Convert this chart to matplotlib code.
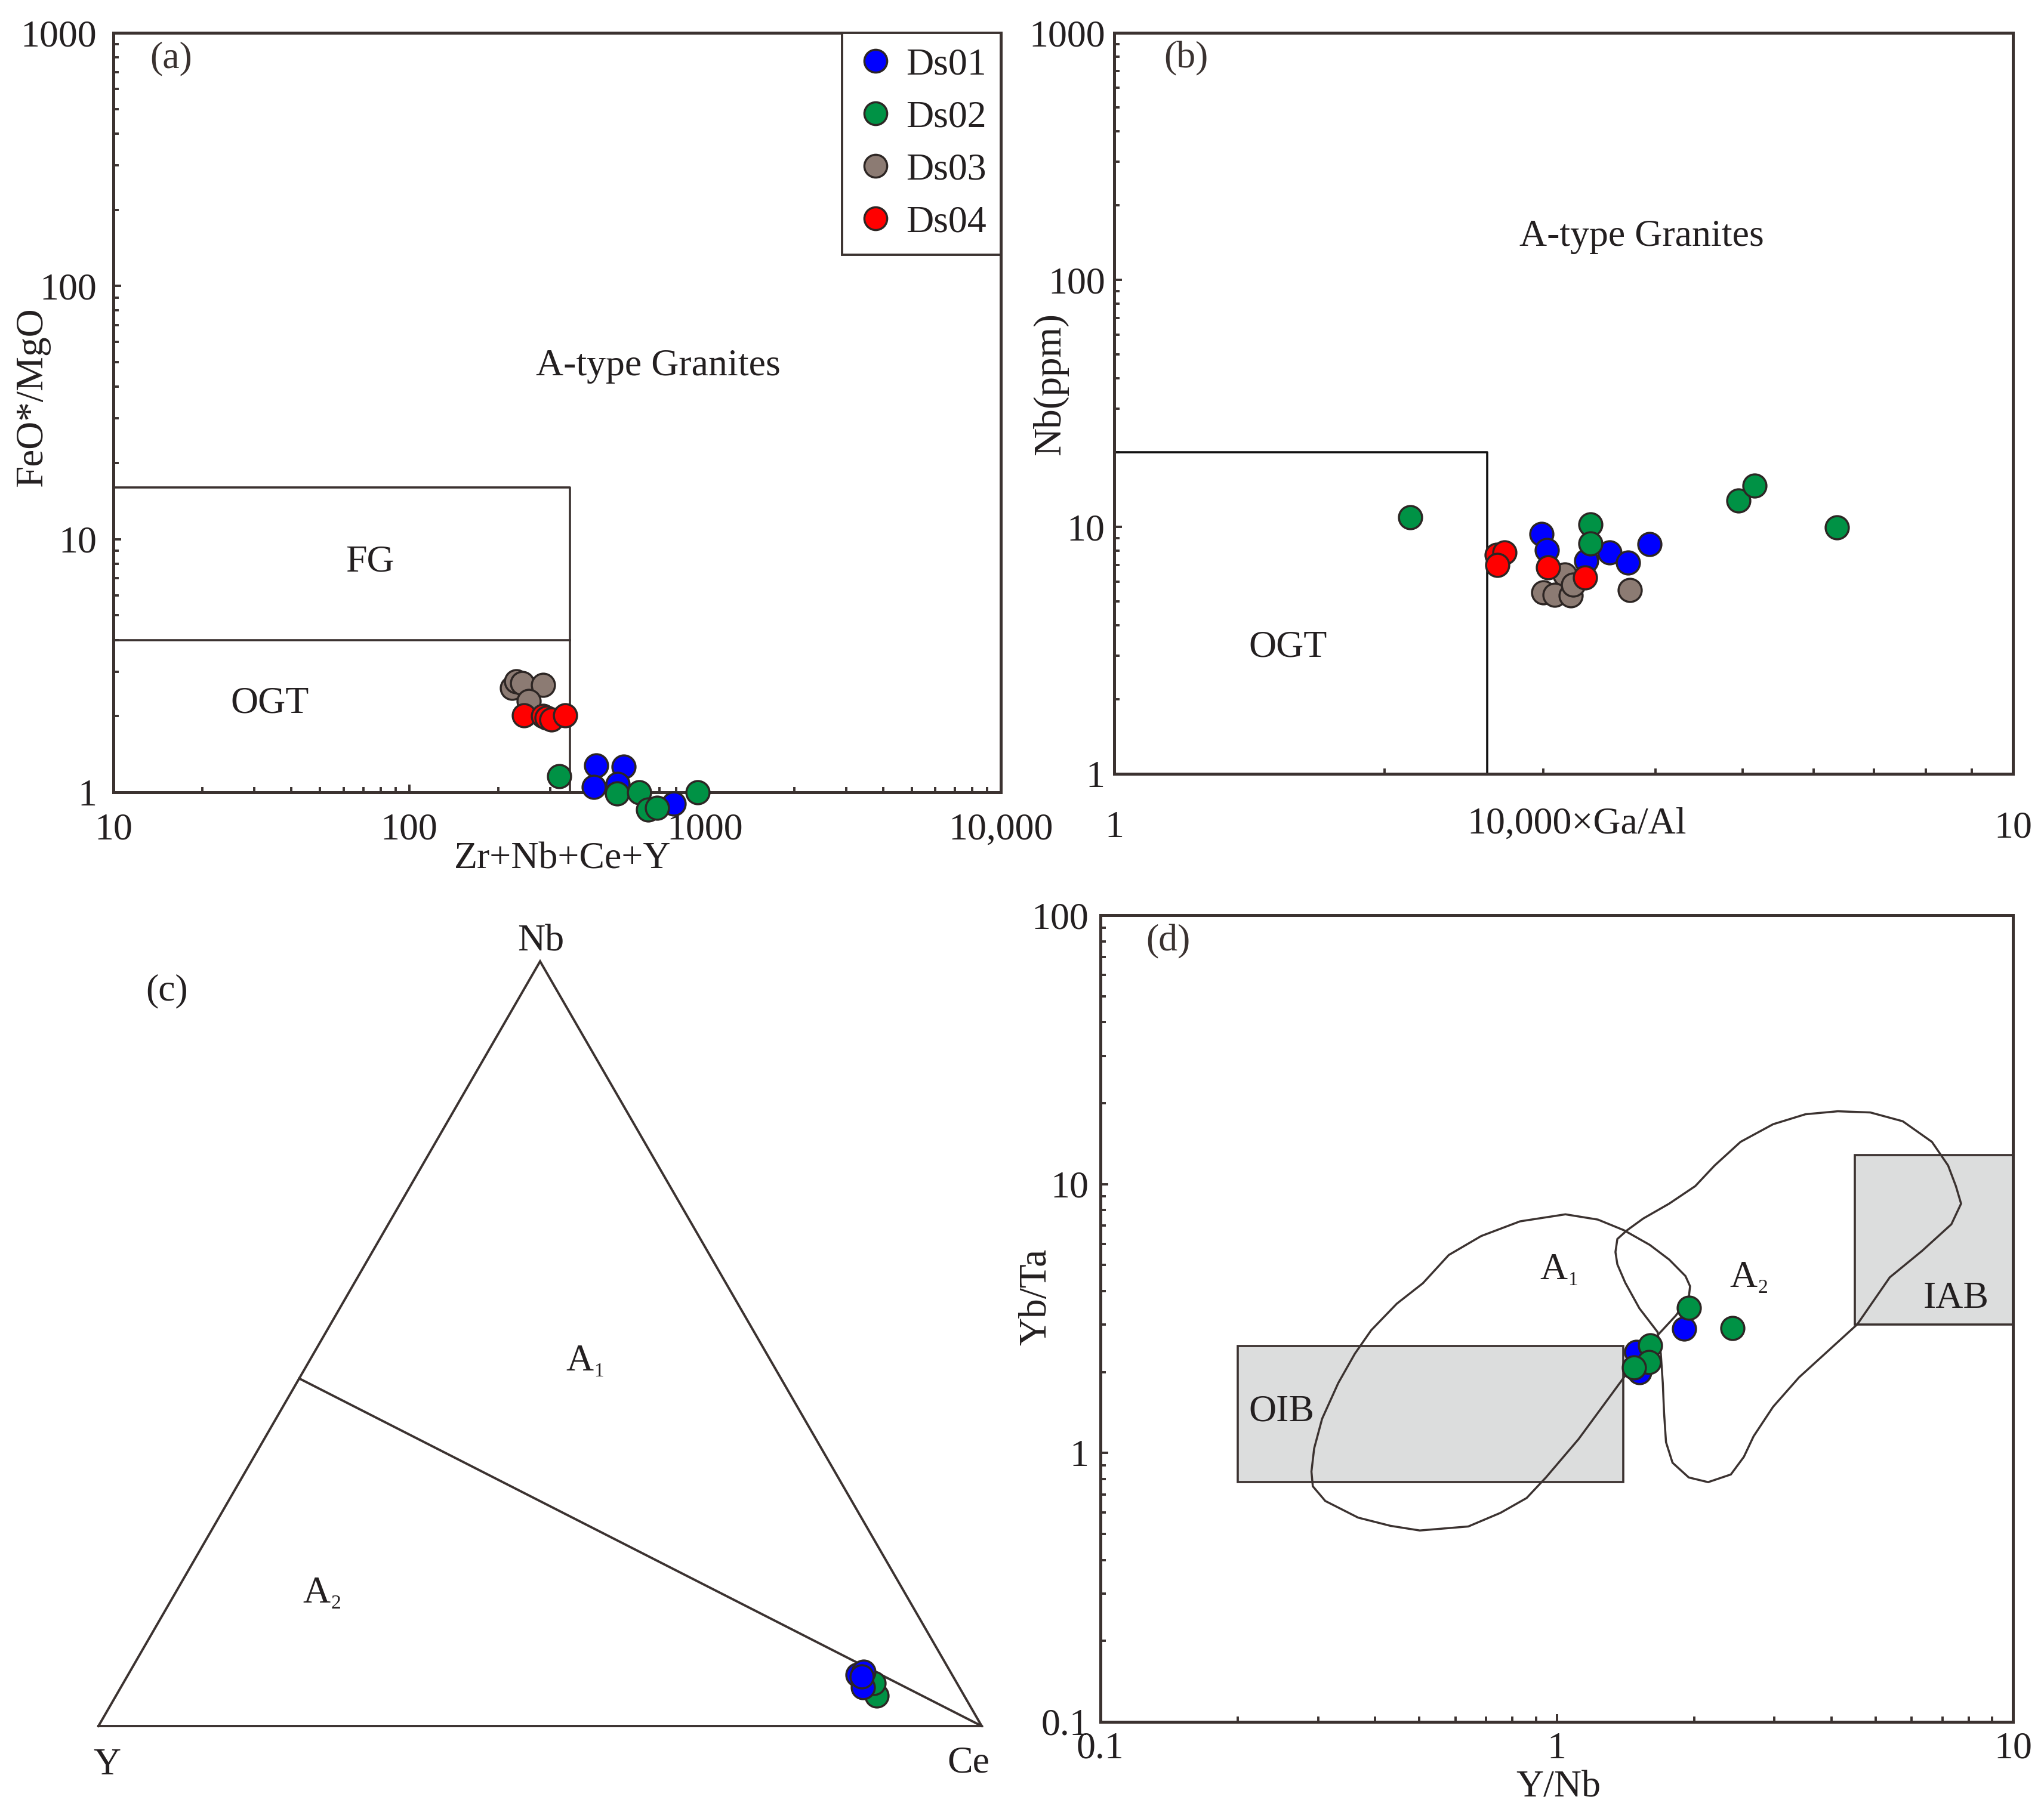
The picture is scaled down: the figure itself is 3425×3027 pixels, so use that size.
import numpy as np
import matplotlib
matplotlib.use("Agg")
import matplotlib.pyplot as plt
from matplotlib.lines import Line2D
from matplotlib.patches import Rectangle
from matplotlib.ticker import LogLocator, NullFormatter

plt.rcParams["font.family"] = ["Liberation Serif", "DejaVu Serif"]

W, H = 3425, 3027
DPI = 100
FS = 46
INK = "#231f20"
LINE = "#3b3230"
EDGE = "#2d2624"

GROUPS = ["Ds01", "Ds02", "Ds03", "Ds04"]
COLORS = ["#0000ff", "#009245", "#8c7b73", "#ff0000"]

# (a) Zr+Nb+Ce+Y vs FeO*/MgO
a_x = {
    "Ds01": [428, 420, 531, 507, 785],
    "Ds02": [322, 504, 599, 642, 688, 944],
    "Ds03": [223, 230, 241, 283, 254],
    "Ds04": [244, 284, 292, 302, 336],
}
a_y = {
    "Ds01": [1.28, 1.05, 1.26, 1.08, 0.90],
    "Ds02": [1.16, 0.99, 1.00, 0.856, 0.868, 1.00],
    "Ds03": [2.58, 2.75, 2.70, 2.65, 2.29],
    "Ds04": [2.01, 2.00, 1.97, 1.94, 2.01],
}
a_fg_x = [10, 350, 350]
a_fg_y = [16, 16, 1]
a_ogt_x = [10, 350]
a_ogt_y = [4, 4]

# (b) 10000*Ga/Al vs Nb
b_x = {
    "Ds01": [2.99, 3.03, 3.35, 3.56, 3.73, 3.94],
    "Ds02": [2.135, 3.39, 3.39, 4.95, 5.16, 6.37],
    "Ds03": [3.17, 3.00, 3.09, 3.22, 3.24, 3.75],
    "Ds04": [2.663, 2.72, 2.67, 3.04, 3.34],
}
b_y = {
    "Ds01": [9.35, 8.07, 7.28, 7.89, 7.15, 8.50],
    "Ds02": [10.93, 10.2, 8.56, 12.75, 14.65, 9.94],
    "Ds03": [6.40, 5.42, 5.31, 5.27, 5.83, 5.54],
    "Ds04": [7.70, 7.89, 7.02, 6.85, 6.24],
}
b_ogt_x = [1, 2.6, 2.6]
b_ogt_y = [20, 20, 1]

# (c) Nb-Y-Ce ternary (fractions)
c_y = {"Ds01": [0.107, 0.098, 0.109, 0.103], "Ds02": [0.099, 0.094]}
c_nb = {"Ds01": [0.067, 0.071, 0.051, 0.065], "Ds02": [0.040, 0.056]}
c_ce = {"Ds01": [0.826, 0.831, 0.840, 0.832], "Ds02": [0.861, 0.850]}
c_div_ynb = 1.2  # A1/A2 boundary: Y/Nb = 1.2 on the Y-Nb side

# (d) Y/Nb vs Yb/Ta
d_x = {"Ds01": [1.90, 1.494, 1.517], "Ds02": [1.95, 2.43, 1.60, 1.594, 1.479]}
d_y = {"Ds01": [2.90, 2.37, 2.00], "Ds02": [3.46, 2.91, 2.51, 2.18, 2.08]}
d_oib_x = [0.2, 1.4]
d_oib_y = [0.78, 2.5]
d_iab_x = [4.5, 10]
d_iab_y = [3.0, 12.8]
d_a1_x = [1.045, 0.831, 0.683, 0.580, 0.509, 0.446, 0.392, 0.361, 0.332, 0.306,
          0.294, 0.290, 0.292, 0.311, 0.367, 0.432, 0.501, 0.640, 0.753, 0.859,
          0.947, 1.116, 1.314, 1.498, 1.680, 1.823, 1.947, 1.960, 1.915, 1.764,
          1.600, 1.403, 1.231]
d_a1_y = [7.72, 7.27, 6.41, 5.45, 4.28, 3.59, 2.86, 2.34, 1.82, 1.34,
          1.04, 0.853, 0.752, 0.663, 0.575, 0.536, 0.515, 0.533, 0.599, 0.680,
          0.811, 1.125, 1.64, 2.22, 2.79, 3.24, 3.77, 4.17, 4.55, 5.24,
          5.94, 6.74, 7.38]
d_a2_x = [1.345, 1.358, 1.427, 1.548, 1.764, 2.012, 2.219, 2.529, 2.980, 3.509,
          4.132, 4.868, 5.734, 6.643, 7.208, 7.497, 7.696, 7.328, 6.324, 5.370,
          4.558, 4.0, 3.396, 2.980, 2.701, 2.571, 2.408, 2.147, 1.947, 1.794,
          1.736, 1.719, 1.708, 1.691, 1.663, 1.518, 1.413, 1.358]
d_a2_y = [5.59, 6.25, 6.74, 7.45, 8.46, 9.83, 11.73, 14.36, 16.70, 18.19,
          18.66, 18.47, 17.13, 14.36, 11.73, 9.83, 8.46, 7.09, 5.65, 4.50,
          3.01, 2.46, 1.91, 1.485, 1.154, 0.967, 0.832, 0.779, 0.811, 0.920,
          1.097, 1.41, 1.82, 2.34, 2.82, 3.45, 4.30, 5.03]

MS = 780  # marker area, pt^2


def px_axes(fig, left, top, right, bottom):
    """axes placed by pixel edges of the full-size picture"""
    return fig.add_axes([left / W, 1 - bottom / H, (right - left) / W, (bottom - top) / H])


def style_log(ax, xlim, ylim, xticks, xlabels, yticks, ylabels, xpad, ypad):
    ax.set_xscale("log")
    ax.set_yscale("log")
    ax.set_xlim(*xlim)
    ax.set_ylim(*ylim)
    ax.set_xticks(xticks)
    ax.set_xticklabels(xlabels)
    ax.set_yticks(yticks)
    ax.set_yticklabels(ylabels)
    for axis in (ax.xaxis, ax.yaxis):
        axis.set_minor_locator(LogLocator(base=10, subs=np.arange(2, 10)))
        axis.set_minor_formatter(NullFormatter())
    for s in ax.spines.values():
        s.set_color(LINE)
        s.set_linewidth(3.6)
    ax.tick_params(which="both", direction="in", top=False, right=False,
                   color=LINE, width=2.8, labelsize=FS, labelcolor=INK)
    ax.tick_params(which="major", length=9.5)
    ax.tick_params(which="minor", length=6.5)
    ax.tick_params(axis="x", which="major", pad=xpad)
    ax.tick_params(axis="y", which="major", pad=ypad)


def scatter_groups(ax, xs, ys, order=GROUPS):
    for name in order:
        if name in xs:
            col = COLORS[GROUPS.index(name)]
            ax.scatter(xs[name], ys[name], s=MS, c=col, edgecolors=EDGE,
                       linewidths=2.5, zorder=5, clip_on=False)


def sub_label(ax, x, y, main, sub):
    ax.text(x, y, main, fontsize=FS, color=INK, ha="center", va="center")
    ax.annotate(sub, (x, y), xycoords="data", xytext=(17, -12), textcoords="offset points",
                fontsize=24, color=INK, ha="left", va="center")


fig = plt.figure(figsize=(W / DPI, H / DPI), dpi=DPI)

# ---------- (a)
ax = px_axes(fig, 190, 55, 1677, 1328)
style_log(ax, (10, 10000), (1, 1000), [10, 100, 1000, 10000],
          ["10", "100", "1000", "10,000"], [1, 10, 100, 1000],
          ["1", "10", "100", "1000"], 25, 20)
ax.plot(a_fg_x, a_fg_y, color=LINE, lw=2.6)
ax.plot(a_ogt_x, a_ogt_y, color=LINE, lw=2.6)
scatter_groups(ax, a_x, a_y)
ax.text(73.7, 8.08, "FG", fontsize=FS, color=INK, ha="center", va="center")
ax.text(33.8, 2.24, "OGT", fontsize=FS, color=INK, ha="center", va="center")
ax.text(695, 48.2, "A-type Granites", fontsize=FS, color=INK, ha="center", va="center")
ax.text(0.041, 0.966, "(a)", fontsize=FS, color="#3a3230", ha="left", va="center",
        transform=ax.transAxes)
ax.set_xlabel("Zr+Nb+Ce+Y", fontsize=FS, color=INK, va="center")
ax.xaxis.set_label_coords(0.506, -0.088)
ax.set_ylabel("FeO*/MgO", fontsize=FS + 1, color=INK, va="center")
ax.yaxis.set_label_coords(-0.091, 0.52)
handles = [Line2D([], [], ls="none", marker="o", markersize=27.5, markerfacecolor=c,
                  markeredgecolor=EDGE, markeredgewidth=2.5) for c in COLORS]
leg = ax.legend(handles, GROUPS, loc="upper right", borderaxespad=0, fontsize=FS,
                fancybox=False, framealpha=1, edgecolor=LINE, handlelength=1.0,
                handletextpad=0.3, labelspacing=0.46, borderpad=0.38)
leg.get_frame().set_linewidth(2.8)
for t in leg.get_texts():
    t.set_color(INK)

# ---------- (b)
ax = px_axes(fig, 1867, 55, 3373, 1297)
style_log(ax, (1, 10), (1, 1000), [1, 10], ["1", "10"], [1, 10, 100, 1000],
          ["1", "10", "100", "1000"], 45, 11)
ax.plot(b_ogt_x, b_ogt_y, color="#111111", lw=2.6)
scatter_groups(ax, b_x, b_y)
ax.text(3.86, 149, "A-type Granites", fontsize=FS, color=INK, ha="center", va="center")
ax.text(1.56, 3.25, "OGT", fontsize=FS, color=INK, ha="center", va="center")
ax.text(0.055, 0.965, "(b)", fontsize=FS, color="#3a3230", ha="left", va="center",
        transform=ax.transAxes)
ax.set_xlabel("10,000×Ga/Al", fontsize=FS, color=INK, va="center")
ax.xaxis.set_label_coords(0.515, -0.068)
ax.set_ylabel("Nb(ppm)", fontsize=FS + 1, color=INK, va="center")
ax.yaxis.set_label_coords(-0.071, 0.526)


# ---------- (c) ternary
def tern(y, nb, ce):
    y, nb, ce = np.asarray(y, float), np.asarray(nb, float), np.asarray(ce, float)
    tot = y + nb + ce
    return (ce + nb / 2) / tot, nb * np.sqrt(3) / 2 / tot


ax = px_axes(fig, 91, 1487, 91 + 1628, 2967)
ax.set_xlim(-0.05, 1.05)
ax.set_ylim(-0.05, 0.95)
ax.axis("off")
fx, fy = tern([1, 0, 0, 1], [0, 0, 1, 0], [0, 1, 0, 0])
ax.plot(fx, fy, color=LINE, lw=2.8, solid_joinstyle="miter")
nb_div = 1 / (1 + c_div_ynb)
dx, dy = tern([1 - nb_div, 0], [nb_div, 0], [0, 1])
ax.plot(dx, dy, color=LINE, lw=2.8)
for name in ["Ds02", "Ds01"]:
    col = COLORS[GROUPS.index(name)]
    px, py = tern(c_y[name], c_nb[name], c_ce[name])
    ax.scatter(px, py, s=MS, c=col, edgecolors=EDGE, linewidths=2.5, zorder=5)
ax.text(0.5007, 0.888, "Nb", fontsize=FS, color=INK, ha="center", va="center")
ax.text(0.0095, -0.0446, "Y", fontsize=FS, color=INK, ha="center", va="center")
ax.text(0.985, -0.042, "Ce", fontsize=FS, color=INK, ha="center", va="center")
ax.text(0.0777, 0.832, "(c)", fontsize=FS, color=INK, ha="center", va="center")
sub_label(ax, 0.545, 0.413, "A", "1")
sub_label(ax, 0.247, 0.150, "A", "2")

# ---------- (d)
ax = px_axes(fig, 1844, 1534, 3373, 2886)
style_log(ax, (0.1, 10), (0.1, 100), [0.1, 1, 10], ["0.1", "1", "10"],
          [0.1, 1, 10, 100], ["0.1", "1", "10", "100"], 12, 14)
for lab in ax.get_yticklabels():
    lab.set_va("center_baseline")
for bx, by in ((d_oib_x, d_oib_y), (d_iab_x, d_iab_y)):
    ax.add_patch(Rectangle((bx[0], by[0]), bx[1] - bx[0], by[1] - by[0],
                           facecolor="#dcdddd", edgecolor=LINE, lw=2.6, zorder=1))
ax.fill(d_a1_x, d_a1_y, facecolor="none", edgecolor=LINE, lw=2.5, zorder=2)
ax.fill(d_a2_x, d_a2_y, facecolor="none", edgecolor=LINE, lw=2.5, zorder=2)
scatter_groups(ax, d_x, d_y)
sub_label(ax, 0.985, 4.79, "A", "1")
sub_label(ax, 2.57, 4.48, "A", "2")
ax.text(0.249, 1.42, "OIB", fontsize=FS, color=INK, ha="center", va="center")
ax.text(7.51, 3.74, "IAB", fontsize=FS, color=INK, ha="center", va="center")
ax.text(0.050, 0.967, "(d)", fontsize=FS, color="#3a3230", ha="left", va="center",
        transform=ax.transAxes)
ax.set_xlabel("Y/Nb", fontsize=FS, color=INK, va="center")
ax.xaxis.set_label_coords(0.502, -0.082)
ax.set_ylabel("Yb/Ta", fontsize=FS + 1, color=INK, va="center")
ax.yaxis.set_label_coords(-0.0706, 0.527)

fig.savefig("out.png", dpi=DPI, facecolor="white")
